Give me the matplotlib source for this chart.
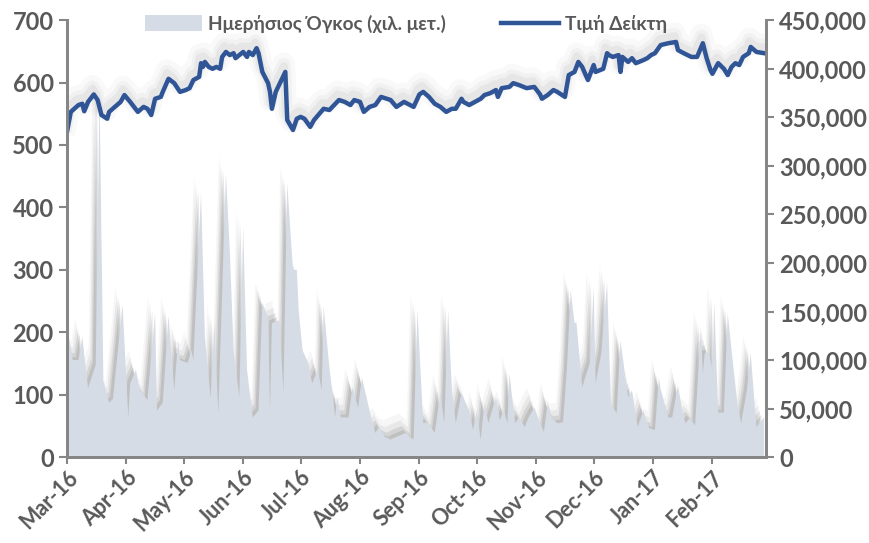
import matplotlib

matplotlib.use("Agg")
import matplotlib.pyplot as plt
import matplotlib.dates as mdates
import matplotlib.patheffects as pe
from matplotlib.patches import Patch
from matplotlib.lines import Line2D
from matplotlib.ticker import FuncFormatter, MultipleLocator
import pandas as pd

# index level (left axis)
price_dates = [
    "2016-03-01", "2016-03-03", "2016-03-07", "2016-03-09", "2016-03-10", "2016-03-12",
    "2016-03-15", "2016-03-17", "2016-03-19", "2016-03-22", "2016-03-23", "2016-03-26",
    "2016-03-29", "2016-03-31", "2016-04-03", "2016-04-05", "2016-04-07", "2016-04-10",
    "2016-04-12", "2016-04-14", "2016-04-16", "2016-04-19", "2016-04-20", "2016-04-23",
    "2016-04-26", "2016-04-29", "2016-05-02", "2016-05-04", "2016-05-06", "2016-05-09",
    "2016-05-10", "2016-05-11", "2016-05-12", "2016-05-14", "2016-05-16", "2016-05-18",
    "2016-05-20", "2016-05-21", "2016-05-23", "2016-05-25", "2016-05-27", "2016-05-28",
    "2016-05-30", "2016-06-01", "2016-06-03", "2016-06-04", "2016-06-06", "2016-06-08",
    "2016-06-09", "2016-06-11", "2016-06-14", "2016-06-15", "2016-06-16", "2016-06-18",
    "2016-06-21", "2016-06-23", "2016-06-24", "2016-06-27", "2016-06-29", "2016-07-01",
    "2016-07-03", "2016-07-06", "2016-07-08", "2016-07-13", "2016-07-16", "2016-07-21",
    "2016-07-24", "2016-07-27", "2016-07-29", "2016-08-01", "2016-08-03", "2016-08-06",
    "2016-08-09", "2016-08-12", "2016-08-15", "2016-08-17", "2016-08-20", "2016-08-24",
    "2016-08-29", "2016-09-01", "2016-09-03", "2016-09-06", "2016-09-09", "2016-09-12",
    "2016-09-15", "2016-09-18", "2016-09-20", "2016-09-23", "2016-09-24", "2016-09-27",
    "2016-09-30", "2016-10-03", "2016-10-05", "2016-10-08", "2016-10-11", "2016-10-12",
    "2016-10-14", "2016-10-18", "2016-10-20", "2016-10-23", "2016-10-27", "2016-10-31",
    "2016-11-03", "2016-11-04", "2016-11-07", "2016-11-10", "2016-11-12", "2016-11-16",
    "2016-11-18", "2016-11-21", "2016-11-23", "2016-11-25", "2016-11-28", "2016-12-01",
    "2016-12-02", "2016-12-06", "2016-12-08", "2016-12-09", "2016-12-11", "2016-12-14",
    "2016-12-15", "2016-12-16", "2016-12-19", "2016-12-21", "2016-12-23", "2016-12-27",
    "2016-12-29", "2016-12-31", "2017-01-02", "2017-01-05", "2017-01-09", "2017-01-13",
    "2017-01-14", "2017-01-17", "2017-01-21", "2017-01-24", "2017-01-27", "2017-01-29",
    "2017-01-31", "2017-02-01", "2017-02-04", "2017-02-06", "2017-02-07", "2017-02-09",
    "2017-02-11", "2017-02-13", "2017-02-15", "2017-02-17", "2017-02-20", "2017-02-21",
    "2017-02-24", "2017-02-28",
]
price = [
    521, 553, 564, 566, 554, 569,
    581, 572, 548, 542, 553, 561,
    569, 580, 569, 561, 553, 561,
    558, 548, 574, 577, 585, 606,
    599, 585, 588, 591, 604, 609,
    631, 625, 633, 625, 622, 625,
    622, 641, 649, 644, 647, 639,
    644, 649, 641, 649, 644, 655,
    647, 617, 599, 585, 558, 585,
    604, 617, 540, 524, 542, 545,
    542, 529, 540, 558, 556, 572,
    569, 564, 572, 569, 553, 561,
    564, 577, 574, 572, 561, 569,
    561, 581, 585, 577, 566, 561,
    553, 558, 558, 574, 569, 564,
    569, 574, 580, 583, 588, 577,
    591, 593, 599, 596, 591, 593,
    581, 574, 580, 588, 585, 577,
    612, 617, 633, 625, 604, 628,
    617, 622, 647, 644, 641, 644,
    617, 641, 633, 639, 631, 636,
    639, 644, 647, 660, 663, 665,
    652, 647, 641, 641, 663, 639,
    620, 614, 631, 625, 622, 612,
    625, 631, 628, 641, 647, 657,
    649, 647,
]

# daily volume, thousand shares (right axis)
volume_dates = [
    "2016-03-01", "2016-03-04", "2016-03-07", "2016-03-09", "2016-03-12", "2016-03-16",
    "2016-03-18", "2016-03-20", "2016-03-23", "2016-03-25", "2016-03-30", "2016-04-02",
    "2016-04-03", "2016-04-06", "2016-04-08", "2016-04-12", "2016-04-16", "2016-04-17",
    "2016-04-20", "2016-04-23", "2016-04-26", "2016-04-28", "2016-04-29", "2016-05-03",
    "2016-05-05", "2016-05-06", "2016-05-10", "2016-05-12", "2016-05-15", "2016-05-17",
    "2016-05-19", "2016-05-23", "2016-05-25", "2016-05-27", "2016-05-30", "2016-06-01",
    "2016-06-03", "2016-06-06", "2016-06-09", "2016-06-11", "2016-06-14", "2016-06-15",
    "2016-06-16", "2016-06-20", "2016-06-22", "2016-06-24", "2016-06-27", "2016-06-29",
    "2016-06-30", "2016-07-02", "2016-07-05", "2016-07-07", "2016-07-10", "2016-07-12",
    "2016-07-13", "2016-07-16", "2016-07-19", "2016-07-20", "2016-07-22", "2016-07-26",
    "2016-07-28", "2016-07-31", "2016-08-02", "2016-08-06", "2016-08-09", "2016-08-11",
    "2016-08-14", "2016-08-17", "2016-08-20", "2016-08-25", "2016-08-27", "2016-08-29",
    "2016-08-31", "2016-09-03", "2016-09-05", "2016-09-07", "2016-09-09", "2016-09-12",
    "2016-09-14", "2016-09-16", "2016-09-18", "2016-09-20", "2016-09-23", "2016-09-27",
    "2016-09-29", "2016-10-01", "2016-10-03", "2016-10-05", "2016-10-07", "2016-10-11",
    "2016-10-13", "2016-10-15", "2016-10-17", "2016-10-18", "2016-10-21", "2016-10-23",
    "2016-10-26", "2016-10-28", "2016-10-31", "2016-11-03", "2016-11-05", "2016-11-07",
    "2016-11-09", "2016-11-12", "2016-11-15", "2016-11-17", "2016-11-19", "2016-11-21",
    "2016-11-22", "2016-11-25", "2016-11-29", "2016-12-01", "2016-12-02", "2016-12-05",
    "2016-12-08", "2016-12-10", "2016-12-13", "2016-12-15", "2016-12-19", "2016-12-21",
    "2016-12-24", "2016-12-27", "2016-12-30", "2017-01-02", "2017-01-04", "2017-01-05",
    "2017-01-09", "2017-01-11", "2017-01-14", "2017-01-17", "2017-01-18", "2017-01-20",
    "2017-01-23", "2017-01-26", "2017-01-27", "2017-01-28", "2017-01-30", "2017-02-01",
    "2017-02-02", "2017-02-04", "2017-02-07", "2017-02-09", "2017-02-11", "2017-02-14",
    "2017-02-16", "2017-02-19", "2017-02-21", "2017-02-23", "2017-02-24", "2017-02-28",
]
volume = [
    136000, 100000, 100000, 124000, 71000, 95000,
    375000, 79000, 56000, 60000, 157000, 41000,
    76000, 90000, 69000, 59000, 148000, 48000,
    56000, 146000, 69000, 120000, 100000, 97000,
    110000, 100000, 272000, 124000, 61000, 138000,
    45000, 292000, 213000, 110000, 62000, 237000,
    90000, 41000, 48000, 159000, 144000, 48000,
    138000, 141000, 66000, 282000, 193000, 193000,
    151000, 110000, 97000, 76000, 90000, 69000,
    155000, 93000, 41000, 62000, 41000, 41000,
    72000, 51000, 82000, 48000, 25000, 31000,
    21000, 18000, 21000, 25000, 21000, 18000,
    151000, 35000, 36000, 31000, 25000, 66000,
    35000, 151000, 69000, 35000, 66000, 48000,
    28000, 48000, 18000, 56000, 35000, 62000,
    38000, 48000, 35000, 86000, 35000, 41000,
    31000, 41000, 51000, 35000, 26000, 56000,
    41000, 35000, 36000, 90000, 172000, 138000,
    139000, 72000, 97000, 175000, 76000, 107000,
    180000, 56000, 45000, 120000, 62000, 69000,
    31000, 48000, 30000, 28000, 82000, 70000,
    41000, 41000, 74000, 41000, 35000, 40000,
    33000, 134000, 86000, 107000, 108000, 90000,
    159000, 46000, 46000, 148000, 110000, 56000,
    35000, 69000, 107000, 56000, 31000, 41000,
]

month_ticks = pd.date_range("2016-03-01", "2017-02-01", freq="MS")

LINE_COLOR = "#2F5597"
AREA_COLOR = "#D6DCE5"
AXIS_COLOR = "#868686"
TEXT_COLOR = "#595959"
FONT = ["Lato", "DejaVu Sans"]

plt.rcParams["font.family"] = FONT
plt.rcParams["font.weight"] = "bold"

pdates = pd.to_datetime(price_dates)
vdates = pd.to_datetime(volume_dates)

fig = plt.figure(figsize=(8.7, 5.43), dpi=100)
ax = fig.add_axes([0.077, 0.158, 0.8035, 0.805])
ax2 = ax.twinx()

# volume area with a soft fake shadow (stacked offset copies)
shadow = [
    pe.SimplePatchShadow(offset=(-5, 14), shadow_rgbFace="#707070", alpha=0.06),
    pe.SimplePatchShadow(offset=(-4, 9), shadow_rgbFace="#707070", alpha=0.10),
    pe.SimplePatchShadow(offset=(-3, 5), shadow_rgbFace="#707070", alpha=0.16),
    pe.SimplePatchShadow(offset=(-2, 2), shadow_rgbFace="#707070", alpha=0.20),
    pe.Normal(),
]
area = ax2.fill_between(vdates, volume, 0, color=AREA_COLOR, linewidth=0)
area.set_path_effects(shadow)

line, = ax.plot(pdates, price, color=LINE_COLOR, linewidth=3.2, solid_joinstyle="round")
line.set_path_effects([
    pe.SimpleLineShadow(offset=(-1, 6), shadow_color="#8c8c8c", alpha=0.05, linewidth=16),
    pe.SimpleLineShadow(offset=(-1, 5), shadow_color="#8c8c8c", alpha=0.07, linewidth=10),
    pe.SimpleLineShadow(offset=(-1, 4), shadow_color="#8c8c8c", alpha=0.10, linewidth=6),
    pe.Normal(),
])

ax.set_zorder(ax2.get_zorder() + 1)
ax.patch.set_visible(False)

ax.set_xlim(pd.Timestamp("2016-03-01"), pd.Timestamp("2017-03-01"))
ax.set_ylim(0, 700)
ax2.set_ylim(0, 450000)
ax.yaxis.set_major_locator(MultipleLocator(100))
ax2.yaxis.set_major_locator(MultipleLocator(50000))
ax2.yaxis.set_major_formatter(FuncFormatter(lambda v, p: f"{int(v):,}"))

ax.set_xticks(month_ticks)
ax.xaxis.set_major_formatter(mdates.DateFormatter("%b-%y"))

for a in (ax, ax2):
    a.spines["top"].set_visible(False)
    for s in ("left", "right", "bottom"):
        a.spines[s].set_color(AXIS_COLOR)
        a.spines[s].set_linewidth(2)
    a.tick_params(colors=AXIS_COLOR, labelcolor=TEXT_COLOR, width=1.5, length=6, labelsize=17)

ax.tick_params(axis="x", length=5, labelsize=15.5, pad=2)
for lab in ax.get_xticklabels():
    lab.set_rotation(45)
    lab.set_ha("right")
    lab.set_rotation_mode("anchor")

handles = [
    Patch(facecolor=AREA_COLOR, edgecolor="none"),
    Line2D([], [], color=LINE_COLOR, linewidth=3.2),
]
labels = ["Ημερήσιος Όγκος (χιλ. μετ.)", "Τιμή Δείκτη"]
leg = ax.legend(handles, labels, loc="center", bbox_to_anchor=(0.485, 0.992),
                ncol=2, frameon=False, handlelength=3.0, handleheight=0.85,
                columnspacing=2.9, handletextpad=0.35,
                prop={"family": FONT, "weight": "bold", "size": 13.7})
for t in leg.get_texts():
    t.set_color(TEXT_COLOR)

fig.savefig("out.png", dpi=100)
